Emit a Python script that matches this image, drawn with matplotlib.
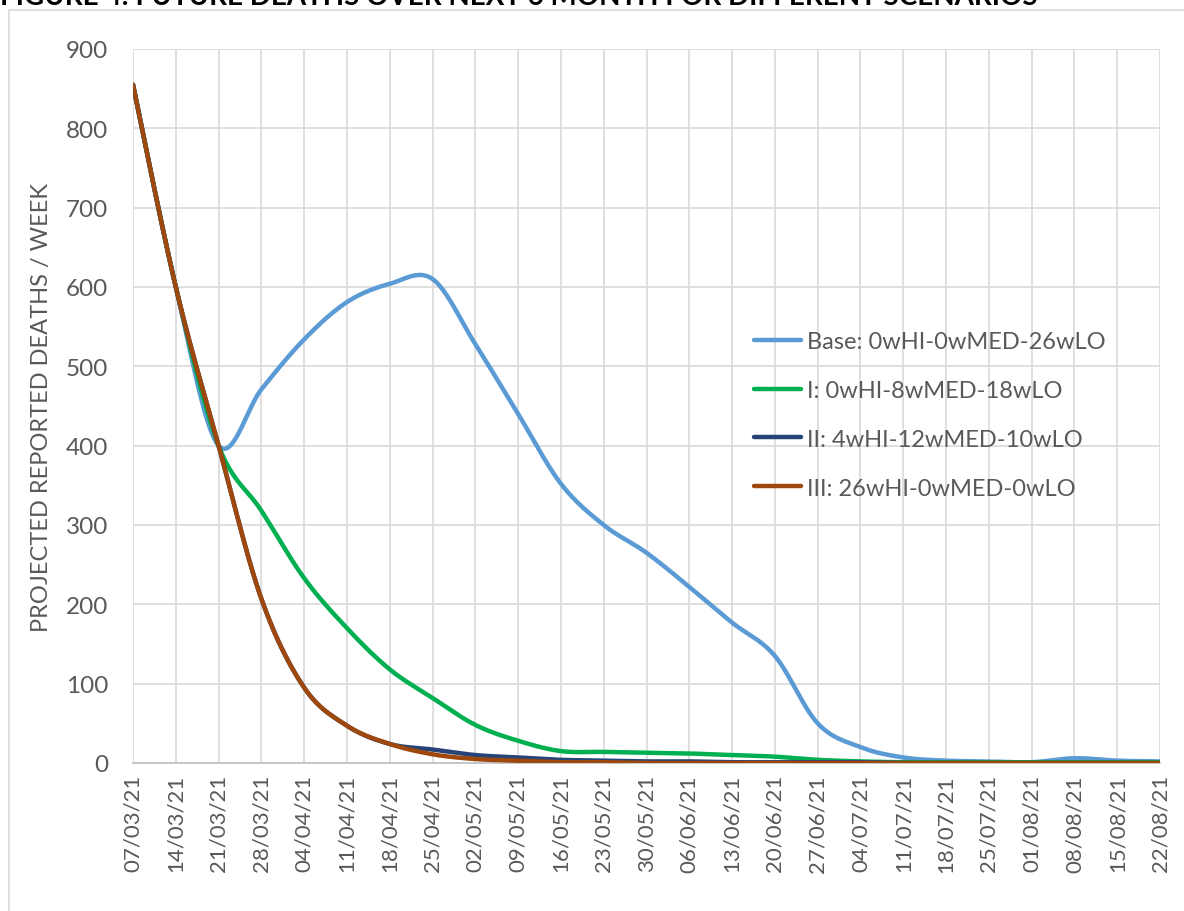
import numpy as np
import matplotlib
matplotlib.use("Agg")
import matplotlib.pyplot as plt
from matplotlib.patches import Rectangle

dates = ["07/03/21", "14/03/21", "21/03/21", "28/03/21", "04/04/21", "11/04/21",
         "18/04/21", "25/04/21", "02/05/21", "09/05/21", "16/05/21", "23/05/21",
         "30/05/21", "06/06/21", "13/06/21", "20/06/21", "27/06/21", "04/07/21",
         "11/07/21", "18/07/21", "25/07/21", "01/08/21", "08/08/21", "15/08/21",
         "22/08/21"]

base = [855, 600, 400, 471, 534, 581, 604, 610, 528, 440, 352, 300, 265, 222,
        177, 135, 50, 20, 7, 3, 2, 1, 6, 3, 2]
scen1 = [855, 600, 400, 318, 233, 170, 118, 82, 48, 28, 15, 14, 13, 12, 10, 8,
         4, 2, 1, 1, 1, 1, 1, 1, 1]
scen2 = [855, 600, 400, 207, 95, 47, 24, 17, 10, 7, 4, 3, 2, 2, 1, 1, 1, 1, 0,
         0, 0, 0, 0, 0, 0]
scen3 = [855, 600, 400, 207, 95, 47, 24, 11, 5, 3, 1, 1, 0, 0, 0, 0, 0, 0, 0,
         0, 0, 0, 0, 0, 0]

labels = ["Base: 0wHI-0wMED-26wLO", "I: 0wHI-8wMED-18wLO",
          "II: 4wHI-12wMED-10wLO", "III: 26wHI-0wMED-0wLO"]
colors = ["#5B9BD5", "#00B050", "#264478", "#9E480E"]
title = "FIGURE 4: FUTURE DEATHS OVER NEXT 6 MONTH FOR DIFFERENT SCENARIOS"
ylabel = "PROJECTED REPORTED DEATHS / WEEK"


def smooth(y, n=24):
    """Catmull-Rom curve through the data points (Excel-like smoothed line)."""
    y = np.asarray(y, float)
    x = np.arange(len(y), dtype=float)
    P = np.column_stack([x, y])
    P = np.vstack([P[0], P, P[-1]])
    out = []
    t = np.linspace(0, 1, n, endpoint=False)[:, None]
    for i in range(1, len(P) - 2):
        p0, p1, p2, p3 = P[i - 1], P[i], P[i + 1], P[i + 2]
        m1 = (p2 - p0) / 2
        m2 = (p3 - p1) / 2
        h00 = 2 * t**3 - 3 * t**2 + 1
        h10 = t**3 - 2 * t**2 + t
        h01 = -2 * t**3 + 3 * t**2
        h11 = t**3 - t**2
        out.append(h00 * p1 + h10 * m1 + h01 * p2 + h11 * m2)
    out.append(P[-2][None, :])
    C = np.vstack(out)
    return C[:, 0], C[:, 1]


plt.rcParams["font.family"] = ["Lato", "DejaVu Sans"]
fig = plt.figure(figsize=(11.84, 9.12), dpi=100)
ax = fig.add_axes([133 / 1184, 1 - 764 / 912, (1160 - 133) / 1184, (764 - 50) / 912])

for s, c, lab in zip([base, scen1, scen2, scen3], colors, labels):
    xs, ys = smooth(s)
    ax.plot(xs, ys, color=c, lw=3.2, label=lab, solid_capstyle="round", zorder=3)

ax.set_xlim(0, len(dates) - 1)
ax.set_ylim(0, 900)
ax.set_yticks(np.arange(0, 901, 100))
ax.set_xticks(np.arange(len(dates)))
ax.set_xticklabels(dates, rotation=90)
ax.grid(True, color="#D9D9D9", lw=1.2, zorder=0)
ax.set_axisbelow(True)
for side in ["top", "right", "left"]:
    ax.spines[side].set_visible(False)
ax.spines["bottom"].set_color("#BFBFBF")
ax.spines["bottom"].set_linewidth(1.2)
ax.tick_params(axis="both", length=0, labelcolor="#595959")
ax.tick_params(axis="y", pad=18, labelsize=17.5)
ax.tick_params(axis="x", pad=8, labelsize=16)
ax.set_ylabel(ylabel, fontsize=17, color="#595959")
ax.yaxis.set_label_coords((52 - 133) / 1027, 0.5)

leg = ax.legend(loc="upper left", bbox_to_anchor=(754 / 1184, 1 - 332 / 912),
                bbox_transform=fig.transFigure, frameon=False, fontsize=17,
                handlelength=2.0, handletextpad=0.25, labelspacing=1.18,
                borderaxespad=0, borderpad=0)
for t in leg.get_texts():
    t.set_color("#595959")

fig.text(0.0, 1 - 5 / 912, title, fontsize=20, fontweight="bold",
         ha="left", va="baseline", color="black")
fig.patches.append(Rectangle((9 / 1184, -0.01), 1.2, 1 - 11 / 912 + 0.01,
                             transform=fig.transFigure, fill=False,
                             edgecolor="#D9D9D9", lw=1.2))

fig.savefig("out.png", dpi=100)
